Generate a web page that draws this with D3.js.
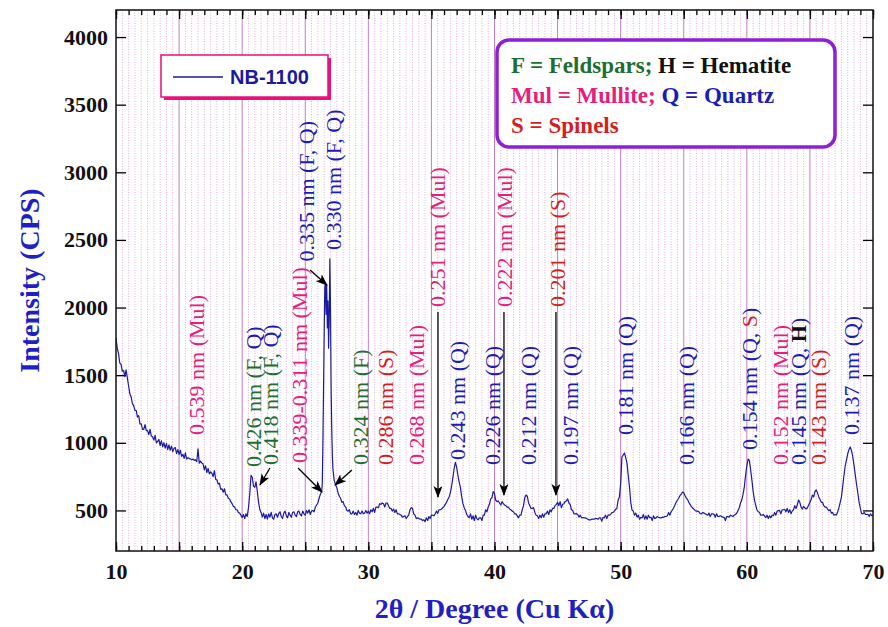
<!DOCTYPE html>
<html><head><meta charset="utf-8">
<script src="https://cdn.jsdelivr.net/npm/d3@7"></script>
<style>body{margin:0;background:#fff} svg{display:block}</style>
</head><body>
<svg id="c" width="888" height="627"></svg>
<script>
// ---------- data ----------
const cpsStart = 10, cpsStep = 0.1;
const cps = [
1775,1700,1660,1590,1580,1530,1535,1490,1540,1480,
1420,1360,1340,1290,1275,1240,1240,1190,1200,1140,
1140,1100,1100,1135,1090,1090,1060,1100,1050,1045,
1020,1055,1000,1010,1025,980,1015,970,1000,960,
995,950,985,945,975,935,960,965,920,950,
915,945,900,915,885,925,880,890,885,880,
875,880,870,875,860,955,850,865,850,845,
800,830,780,810,770,785,775,750,795,730,
725,695,700,655,660,635,660,615,615,590,
585,565,550,530,525,505,505,485,480,465,
448,470,440,475,455,520,620,760,745,680,
670,712,640,560,505,485,450,480,440,470,
435,475,450,485,445,435,470,475,450,478,
490,455,440,480,495,460,445,485,465,450,
485,490,465,455,490,495,470,460,495,475,
465,500,480,505,470,495,500,490,525,540,
555,590,620,640,1000,1800,2180,2170,2050,1900,
2000,1100,800,720,690,670,630,605,590,560,
565,535,525,500,495,505,475,475,495,470,
485,465,500,480,475,495,475,480,500,480,
495,475,505,490,515,485,525,525,520,550,
545,555,550,525,555,555,535,515,515,495,
510,485,505,475,475,470,465,450,455,460,
440,455,465,505,520,515,475,465,440,445,
440,435,435,425,430,418,445,425,455,440,
465,465,460,475,495,478,505,505,510,520,
530,545,560,580,600,630,680,740,810,855,
820,760,710,670,600,550,520,500,470,455,
445,475,435,460,425,465,440,430,445,445,
425,465,465,505,490,525,545,585,595,640,
625,575,565,570,555,540,565,550,540,535,
525,525,510,505,495,490,475,475,460,445,
465,465,505,535,595,614,605,555,535,515,
515,520,485,465,460,440,465,445,475,450,
475,475,495,470,505,490,515,515,535,545,
560,535,565,520,545,550,565,570,585,555,
545,505,500,475,475,476,470,450,465,445,
448,445,445,440,435,430,430,435,435,435,
440,440,435,445,445,420,449,445,465,440,
465,465,470,483,485,495,508,515,577,600,
700,895,910,925,890,850,760,673,560,503,
495,465,480,450,465,435,449,445,470,435,
460,435,465,446,450,425,460,440,445,455,
450,445,445,450,449,455,455,460,485,465,
490,503,520,540,560,577,590,610,620,636,
630,610,592,580,560,545,530,518,510,500,
495,495,490,476,475,485,480,475,470,465,
480,455,475,475,471,450,475,455,455,460,
455,450,449,425,455,455,450,465,460,455,
466,470,480,500,520,555,577,620,673,760,
830,880,870,800,725,640,580,540,505,490,
486,465,465,470,460,446,465,440,460,445,
465,460,485,465,495,498,500,475,505,505,
508,490,515,485,505,476,495,505,535,515,
540,577,560,525,510,530,518,510,520,540,
560,580,614,600,640,651,630,600,580,560,
560,535,525,525,510,498,505,480,485,465,
470,466,490,520,560,600,680,760,830,873,
920,950,969,940,895,830,760,690,628,560,
515,476,475,485,471,470,471,455,475,461,
466];
// finer reading of the main quartz peak (26.3-27.2 deg)
const mainPeak = [[26.30,640],[26.35,700],[26.40,1000],[26.45,1400],[26.50,1800],[26.55,2150],
 [26.60,2180],[26.65,1950],[26.70,2170],[26.75,1850],[26.80,2050],[26.85,1700],[26.90,1900],
 [26.95,2360],[27.00,2000],[27.05,1400],[27.10,1100],[27.15,900],[27.20,800]];

const xDomain = [10, 70], yDomain = [200, 4200];
const xLabelTicks = [10, 20, 30, 40, 50, 60, 70];
const yLabelTicks = [500, 1000, 1500, 2000, 2500, 3000, 3500, 4000];

// peak annotations: text segments with phase code, 2theta position, intensity where text starts
const labelSegments = [
 [["0.539 nm (Mul)","Mul"]],
 [["0.426 nm (F, ","F"],["Q)","Q"]],
 [["0.418 nm (F, ","F"],["Q)","Q"]],
 [["0.339-0.311 nm (Mul)","Mul"]],
 [["0.335 nm (F, Q)","Q"]],
 [["0.330 nm (F, Q)","Q"]],
 [["0.324 nm (F)","F"]],
 [["0.286 nm (S)","S"]],
 [["0.268 nm (Mul)","Mul"]],
 [["0.251 nm (Mul)","Mul"]],
 [["0.243 nm (Q)","Q"]],
 [["0.226 nm (Q)","Q"]],
 [["0.222 nm (Mul)","Mul"]],
 [["0.212 nm (Q)","Q"]],
 [["0.201 nm (S)","S"]],
 [["0.197 nm (Q)","Q"]],
 [["0.181 nm (Q)","Q"]],
 [["0.166 nm (Q)","Q"]],
 [["0.154 nm (Q, ","Q"],["S","S"],[")","Q"]],
 [["0.152 nm (Mul)","Mul"]],
 [["0.145 nm (Q, ","Q"],["H","H"],[")","Q"]],
 [["0.143 nm (S)","S"]],
 [["0.137 nm (Q)","Q"]]
];
const labelTheta = [16.34,20.82,22.17,24.54,25.05,27.16,29.3,31.36,33.74,35.48,36.99,39.84,40.75,42.69,44.99,45.98,50.34,55.18,60.17,62.63,64.09,65.68,68.29];
const labelStart = [1058,821,836,850,2340,2425,836,836,836,2004,873,836,2004,836,2004,836,1058,836,947,836,836,836,1058];

// arrows: [theta0, cps0, theta1, cps1]
const arrowsData = [
 [22.2,814,21.41,688],
 [24.43,814,26.33,636],
 [25.38,2278,26.72,2167],
 [28.7,799,27.36,688],
 [35.52,1967,35.52,599],
 [40.75,1967,40.75,614],
 [44.87,1967,44.87,614]
];

const legendName = "NB-1100";
const phaseKey = [
 [["F = Feldspars;","F"],[" H = Hematite","H"]],
 [["Mul = Mullite;","Mul"],[" Q = Quartz","Q"]],
 [["S = Spinels","S"]]
];

// ---------- styles ----------
const phaseColor = {F:"#1e6e32", Q:"#1c1cb0", Mul:"#e4207c", S:"#d41e24", H:"#111111"};
const serif = "'Liberation Serif','Times New Roman',serif";
const M = {l:116, r:873, t:10, b:551};

const svg = d3.select("#c");
const x = d3.scaleLinear().domain(xDomain).range([M.l, M.r]);
const y = d3.scaleLinear().domain(yDomain).range([M.b, M.t]);

svg.append("rect").attr("width",888).attr("height",627).attr("fill","#fff");

// grid
const g = svg.append("g");
g.selectAll(".mg").data(d3.range(10.5, 70, 0.5).filter(v => v % 5 !== 0)).join("line")
 .attr("x1",d=>x(d)).attr("x2",d=>x(d)).attr("y1",M.t).attr("y2",M.b)
 .attr("stroke","#e2aadc").attr("stroke-width",1).attr("stroke-dasharray","1,1.6");
g.selectAll(".Mg").data(d3.range(15, 70, 5)).join("line")
 .attr("x1",d=>x(d)).attr("x2",d=>x(d)).attr("y1",M.t).attr("y2",M.b)
 .attr("stroke","#c47cc4").attr("stroke-width",1);

// axes
function styleAxis(sel){ sel.select(".domain").remove(); sel.selectAll("line").attr("stroke","#000").attr("stroke-width",1.3); }
svg.append("g").attr("transform",`translate(0,${M.b})`)
 .call(d3.axisBottom(x).tickValues(d3.range(10,71,1)).tickSize(-5).tickFormat("")).call(styleAxis);
svg.append("g").attr("transform",`translate(0,${M.b})`)
 .call(d3.axisBottom(x).tickValues(d3.range(10,71,5)).tickSize(-9).tickPadding(12)
   .tickFormat(d => xLabelTicks.includes(d) ? d : "")).call(styleAxis)
 .selectAll("text").attr("font-family",serif).attr("font-weight","bold").attr("font-size",22).attr("fill","#111");
svg.append("g").attr("transform",`translate(0,${M.t})`)
 .call(d3.axisTop(x).tickValues(d3.range(10,71,1)).tickSize(-5).tickFormat("")).call(styleAxis);
svg.append("g").attr("transform",`translate(0,${M.t})`)
 .call(d3.axisTop(x).tickValues(d3.range(10,71,5)).tickSize(-9).tickFormat("")).call(styleAxis);
svg.append("g").attr("transform",`translate(${M.l},0)`)
 .call(d3.axisLeft(y).tickValues(yLabelTicks).tickSize(-10).tickPadding(8).tickFormat(d3.format("d"))).call(styleAxis)
 .selectAll("text").attr("font-family",serif).attr("font-weight","bold").attr("font-size",22).attr("fill","#111");
svg.append("g").attr("transform",`translate(${M.r},0)`)
 .call(d3.axisRight(y).tickValues(yLabelTicks).tickSize(-10).tickFormat("")).call(styleAxis);

// curve
const pts = cps.map((v,i)=>[+(cpsStart + i*cpsStep).toFixed(2), v])
  .filter(p => p[0] < 26.29 || p[0] > 27.21).concat(mainPeak).sort((a,b)=>a[0]-b[0]);
svg.append("clipPath").attr("id","clip").append("rect")
 .attr("x",M.l).attr("y",M.t).attr("width",M.r-M.l).attr("height",M.b-M.t);
svg.append("path").datum(pts).attr("clip-path","url(#clip)")
 .attr("fill","none").attr("stroke","#1a1a9e").attr("stroke-width",1.2).attr("stroke-linejoin","round")
 .attr("d", d3.line().x(d=>x(d[0])).y(d=>y(d[1])));

// frame
svg.append("rect").attr("x",M.l).attr("y",M.t).attr("width",M.r-M.l).attr("height",M.b-M.t)
 .attr("fill","none").attr("stroke","#111").attr("stroke-width",1.5);

// arrows
const defs = svg.append("defs");
defs.append("marker").attr("id","ah").attr("viewBox","0 0 12 9").attr("refX",11).attr("refY",4.5)
 .attr("markerWidth",12).attr("markerHeight",9).attr("markerUnits","userSpaceOnUse").attr("orient","auto")
 .append("path").attr("d","M0,0 L12,4.5 L0,9 L3,4.5 z").attr("fill","#000");
svg.selectAll(".arr").data(arrowsData).join("line")
 .attr("x1",d=>x(d[0])).attr("y1",d=>y(d[1])).attr("x2",d=>x(d[2])).attr("y2",d=>y(d[3]))
 .attr("stroke","#000").attr("stroke-width",1.3).attr("marker-end","url(#ah)");

// peak labels
labelSegments.forEach((segs,i)=>{
  const t = svg.append("text")
    .attr("transform",`translate(${x(labelTheta[i])},${y(labelStart[i])}) rotate(-90)`)
    .attr("font-family",serif).attr("font-size",22).attr("dominant-baseline","central");
  segs.forEach(s=>{
    t.append("tspan").text(s[0]).attr("fill",phaseColor[s[1]])
     .attr("font-weight", s[1]==="H" ? "bold" : "normal");
  });
});

// legend
svg.append("rect").attr("x",164).attr("y",58).attr("width",167).attr("height",42).attr("fill","#e8107a");
svg.append("rect").attr("x",161).attr("y",55).attr("width",167).attr("height",42)
 .attr("fill","#fff").attr("stroke","#e8107a").attr("stroke-width",1.5);
svg.append("line").attr("x1",173).attr("x2",223).attr("y1",77).attr("y2",77).attr("stroke","#1a1a9e").attr("stroke-width",1.5);
svg.append("text").attr("x",230).attr("y",84).text(legendName)
 .attr("font-family","'Liberation Sans',Arial,sans-serif").attr("font-weight","bold").attr("font-size",20).attr("fill","#1a1a9e");

// phase key box
svg.append("rect").attr("x",497).attr("y",40).attr("width",338).attr("height",107).attr("rx",12)
 .attr("fill","#fff").attr("stroke","#8f1fd2").attr("stroke-width",3.5);
phaseKey.forEach((line,i)=>{
  const t = svg.append("text").attr("x",511).attr("y",73 + i*30)
    .attr("font-family",serif).attr("font-weight","bold").attr("font-size",23);
  line.forEach(s=> t.append("tspan").text(s[0]).attr("fill",phaseColor[s[1]]));
});

// axis titles
svg.append("text").attr("x",(M.l+M.r)/2).attr("y",618).attr("text-anchor","middle")
 .attr("font-family",serif).attr("font-weight","bold").attr("font-size",28).attr("fill","#1f1fc4")
 .text("2θ / Degree (Cu Kα)");
svg.append("text").attr("transform",`translate(39,${(M.t+M.b)/2}) rotate(-90)`).attr("text-anchor","middle")
 .attr("font-family",serif).attr("font-weight","bold").attr("font-size",28).attr("fill","#1f1fc4")
 .text("Intensity (CPS)");
</script>
</body></html>
